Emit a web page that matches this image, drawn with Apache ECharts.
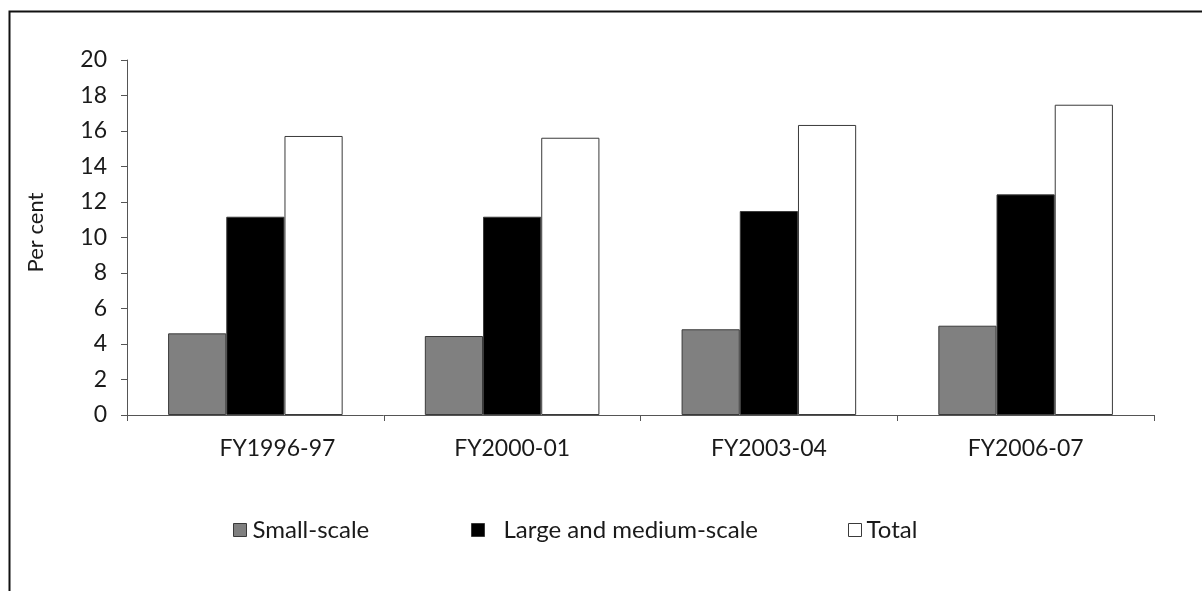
<!DOCTYPE html>
<html>
<head>
<meta charset="utf-8">
<script src="https://cdn.jsdelivr.net/npm/echarts@6/dist/echarts.min.js"></script>
<style>
html,body{margin:0;padding:0;background:#fff;}
#chart{width:1202px;height:591px;}
</style>
</head>
<body>
<div id="chart"></div>
<script>
var categories = ['FY1996-97', 'FY2000-01', 'FY2003-04', 'FY2006-07'];
var smallScale = [4.6, 4.45, 4.83, 5.03];
var largeMedium = [11.17, 11.17, 11.49, 12.43];
var total = [15.72, 15.62, 16.34, 17.48];
var seriesNames = ['Small-scale', 'Large and medium-scale', 'Total'];
var yMin = 0, yMax = 20, yStep = 2;

var FONT = 'Lato';
var chart = echarts.init(document.getElementById('chart'));
var barBorder = {borderColor: '#3a3a3a', borderWidth: 1};
function legendItem(name, left, padLeft) {
  return {
    data: [name], left: left, top: 513, icon: 'rect', itemWidth: 13, itemHeight: 13,
    itemGap: 0, selectedMode: false,
    textStyle: {fontFamily: FONT, fontSize: 24, color: '#1a1a1a', padding: [0, 0, 0, padLeft]},
    itemStyle: {borderColor: '#3a3a3a', borderWidth: 1}
  };
}
chart.setOption({
  animation: false,
  backgroundColor: '#fff',
  textStyle: {fontFamily: FONT},
  grid: {left: 127, right: 48, top: 60, bottom: 176},
  legend: [
    legendItem(seriesNames[0], 228, 1),
    legendItem(seriesNames[1], 466, 14),
    legendItem(seriesNames[2], 843, 0)
  ],
  xAxis: {
    type: 'category',
    data: categories.map(function (c, i) {
      return i === 0 ? {value: c, textStyle: {padding: [0, 0, 0, 44]}} : c;
    }),
    axisLine: {lineStyle: {color: '#555', width: 1}},
    axisTick: {show: true, length: 6, inside: false, lineStyle: {color: '#555'}},
    axisLabel: {fontFamily: FONT, fontSize: 23, color: '#1a1a1a', margin: 22}
  },
  yAxis: {
    type: 'value', min: yMin, max: yMax, interval: yStep,
    name: 'Per cent', nameLocation: 'middle', nameGap: 80,
    nameTextStyle: {fontFamily: FONT, fontSize: 22, color: '#1a1a1a', padding: [0, 0, 0, 10]},
    axisLine: {show: true, lineStyle: {color: '#555', width: 1}},
    axisTick: {show: true, length: 6, lineStyle: {color: '#555'}},
    axisLabel: {fontFamily: FONT, fontSize: 23, color: '#1a1a1a', margin: 20},
    splitLine: {show: false}
  },
  series: [
    {name: seriesNames[0], type: 'bar', data: smallScale, barGap: '0%', barCategoryGap: '32%',
     itemStyle: Object.assign({color: '#808080'}, barBorder)},
    {name: seriesNames[1], type: 'bar', data: largeMedium, barGap: '0%', barCategoryGap: '32%',
     itemStyle: Object.assign({color: '#000000'}, barBorder)},
    {name: seriesNames[2], type: 'bar', data: total, barGap: '0%', barCategoryGap: '32%',
     itemStyle: Object.assign({color: '#ffffff'}, barBorder)}
  ],
  graphic: [
    {type: 'polyline', shape: {points: [[9.5, 591], [9.5, 11.5], [1202, 11.5]]},
     style: {stroke: '#111', lineWidth: 2, fill: null}, silent: true}
  ]
});
</script>
</body>
</html>
